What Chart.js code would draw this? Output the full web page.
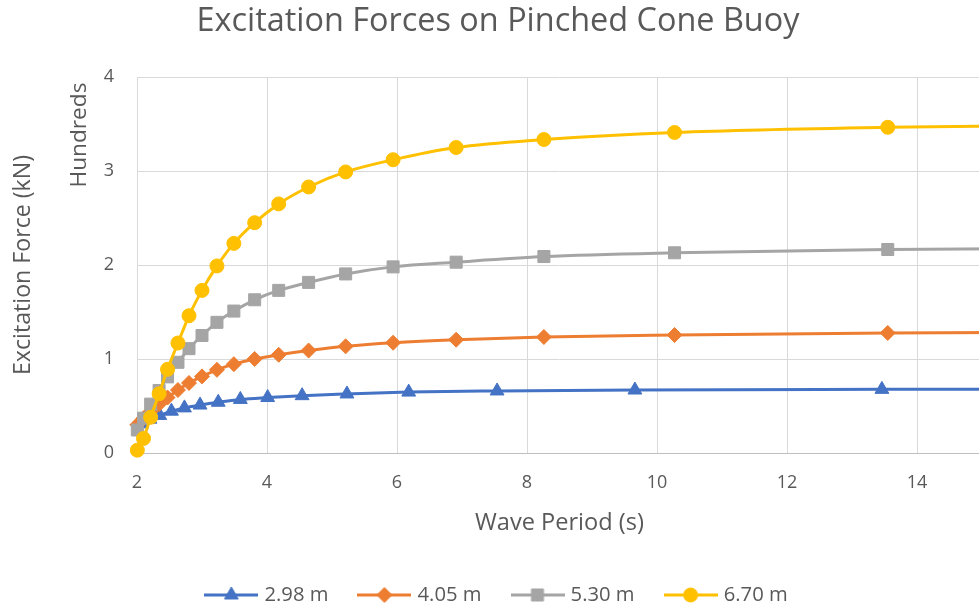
<!DOCTYPE html>
<html><head><meta charset="utf-8">
<script src="https://cdn.jsdelivr.net/npm/chart.js@4.4.1/dist/chart.umd.min.js"></script>
<style>html,body{margin:0;padding:0;overflow:hidden;background:#fff}#wrap{width:1000px;height:609px;position:relative}</style>
</head><body><div id="wrap"><canvas id="c" width="1000" height="609"></canvas></div>
<script>
// ---- data ----
const chartTitle = 'Excitation Forces on Pinched Cone Buoy';
const xAxisTitle = 'Wave Period (s)';
const yAxisTitle = 'Excitation Force (kN)';
const yUnitLabel = 'Hundreds';
const seriesNames = ['2.98 m', '4.05 m', '5.30 m', '6.70 m'];
const xTickValues = [2, 4, 6, 8, 10, 12, 14];
const yTickValues = [0, 1, 2, 3, 4];

// wave period (s) of the 2.98 m series points (last one lies beyond the visible axis)
const periods298 = [2.07, 2.20, 2.35, 2.53, 2.73, 2.97, 3.25, 3.59, 4.01, 4.54, 5.23, 6.18, 7.54, 9.66, 13.46, 22.0];
// wave period (s) of the 4.05 m, 5.30 m and 6.70 m series points
const periodsOther = [2.005, 2.10, 2.21, 2.34, 2.47, 2.63, 2.80, 3.00, 3.23, 3.49, 3.81, 4.18, 4.64, 5.21, 5.94, 6.91, 8.26, 10.27, 13.55, 19.9];

// excitation force in hundreds of kN
const force298 = [0.31, 0.36, 0.40, 0.445, 0.48, 0.51, 0.54, 0.57, 0.59, 0.61, 0.628, 0.648, 0.66, 0.67, 0.677, 0.685];
const force405 = [0.30, 0.37, 0.44, 0.52, 0.59, 0.67, 0.745, 0.815, 0.885, 0.945, 1.00, 1.045, 1.09, 1.135, 1.173, 1.205, 1.234, 1.255, 1.277, 1.29];
const force530 = [0.245, 0.37, 0.52, 0.665, 0.81, 0.965, 1.11, 1.25, 1.39, 1.51, 1.63, 1.73, 1.815, 1.905, 1.98, 2.03, 2.09, 2.13, 2.165, 2.19];
const force670 = [0.03, 0.155, 0.38, 0.63, 0.89, 1.17, 1.46, 1.73, 1.99, 2.23, 2.45, 2.65, 2.83, 2.99, 3.12, 3.25, 3.335, 3.41, 3.465, 3.51];

// ---- styling ----
const FAMILY = '"Open Sans", "Liberation Sans", sans-serif';
const TEXT = '#595959';
const colors = ['#4472C4', '#ED7D31', '#A5A5A5', '#FFC000'];
const markers = [
  {style: 'triangle', r: 8},
  {style: 'rectRot', r: 7.5},
  {style: 'rect', r: 8.5},
  {style: 'circle', r: 7}
];

const mctx = document.createElement('canvas').getContext('2d');
function fit(text, target, weight) {
  mctx.font = (weight || 400) + ' 100px ' + FAMILY;
  return +(100 * target / mctx.measureText(text).width).toFixed(2);
}
const titleSize = fit(chartTitle, 603);
const yTitleSize = fit(yAxisTitle, 220);
const unitSize = fit(yUnitLabel, 105);
const xTitleSize = fit(xAxisTitle, 169);
const legSize = fit(seriesNames[0], 64);
const tickSize = 18;

const xys = (xs, ys) => xs.map((x, i) => ({x: x, y: ys[i]}));
const seriesData = [
  xys(periods298, force298),
  xys(periodsOther, force405),
  xys(periodsOther, force530),
  xys(periodsOther, force670)
];

function legendImage(i) {
  const c = document.createElement('canvas');
  c.width = 54; c.height = 22;
  const g = c.getContext('2d');
  g.strokeStyle = colors[i]; g.lineWidth = 3;
  g.beginPath(); g.moveTo(0, 11); g.lineTo(54, 11); g.stroke();
  g.fillStyle = colors[i]; g.lineWidth = 1;
  Chart.helpers.drawPoint(g, {pointStyle: markers[i].style, radius: markers[i].r, rotation: 0, borderWidth: 1}, 27, 11);
  return c;
}

const datasets = seriesNames.map((name, i) => ({
  label: name,
  data: seriesData[i],
  borderColor: colors[i],
  backgroundColor: colors[i],
  borderWidth: 3,
  pointStyle: markers[i].style,
  pointRadius: markers[i].r,
  pointHoverRadius: markers[i].r,
  pointBackgroundColor: colors[i],
  pointBorderColor: colors[i],
  pointBorderWidth: 1,
  cubicInterpolationMode: 'monotone',
  clip: false,
  order: 4 - i
}));

const PAD_LEFT = 14;
const AREA_TOP = 77, AREA_BOTTOM = 453, AREA_LEFT = 137;
const legPad = 33;
const legendH = legSize + legPad + 10;
const xScaleH = 609 - AREA_BOTTOM - legendH;
const legendShift = 595 - (609 - 10 - legSize / 2);

const extras = {
  id: 'extras',
  afterLayout(chart) {
    if (chart.legend) { chart.legend.top += legendShift; chart.legend.bottom += legendShift; }
  },
  afterDraw(chart) {
    const g = chart.ctx;
    g.save();
    g.translate(80, 135);
    g.rotate(-Math.PI / 2);
    g.fillStyle = TEXT;
    g.font = '400 ' + unitSize + 'px ' + FAMILY;
    g.textAlign = 'center';
    g.textBaseline = 'middle';
    g.fillText(yUnitLabel, 0, 0);
    g.restore();
  }
};

new Chart(document.getElementById('c'), {
  type: 'line',
  data: {datasets},
  plugins: [extras],
  options: {
    responsive: false,
    animation: false,
    devicePixelRatio: 1,
    layout: {padding: {left: PAD_LEFT, right: 18, top: 0, bottom: 0}},
    plugins: {
      title: {
        display: true, text: chartTitle, color: TEXT,
        font: {family: FAMILY, size: titleSize, weight: 400, lineHeight: 1.2},
        padding: {top: 22 - 0.6 * titleSize, bottom: AREA_TOP - (22 - 0.6 * titleSize) - 1.2 * titleSize}
      },
      legend: {
        position: 'bottom',
        labels: {
          color: TEXT, font: {family: FAMILY, size: legSize},
          usePointStyle: true, pointStyleWidth: 46, padding: legPad,
          generateLabels(chart) {
            return chart.data.datasets.map((d, i) => ({
              text: d.label, pointStyle: legendImage(i), fontColor: TEXT,
              strokeStyle: colors[i], fillStyle: colors[i], lineWidth: 0, datasetIndex: i, hidden: false
            }));
          }
        }
      },
      tooltip: {enabled: false}
    },
    scales: {
      x: {
        type: 'linear', min: 2, max: 15,
        afterBuildTicks(s) { s.ticks = xTickValues.map(v => ({value: v})); },
        afterFit(s) { s.height = xScaleH; },
        ticks: {color: TEXT, font: {family: FAMILY, size: tickSize}, padding: 19, maxRotation: 0, autoSkip: false},
        grid: {color: '#D9D9D9', lineWidth: 1, drawTicks: false},
        border: {color: '#BFBFBF', width: 1},
        title: {
          display: true, text: xAxisTitle, color: TEXT,
          font: {family: FAMILY, size: xTitleSize, lineHeight: 1.2},
          padding: {top: 0, bottom: (AREA_BOTTOM + xScaleH) - 523 - 0.6 * xTitleSize}
        }
      },
      y: {
        type: 'linear', min: 0, max: 4,
        afterBuildTicks(s) { s.ticks = yTickValues.map(v => ({value: v})); },
        afterFit(s) { s.width = AREA_LEFT - PAD_LEFT; },
        ticks: {color: TEXT, font: {family: FAMILY, size: tickSize}, padding: 23},
        grid: {color: '#D9D9D9', lineWidth: 1, drawTicks: false},
        border: {display: false},
        title: {
          display: true, text: yAxisTitle, color: TEXT,
          font: {family: FAMILY, size: yTitleSize, lineHeight: 1.2},
          padding: {top: 23 - PAD_LEFT - 0.6 * yTitleSize, bottom: 0}
        }
      }
    }
  }
});
</script>
</body></html>
